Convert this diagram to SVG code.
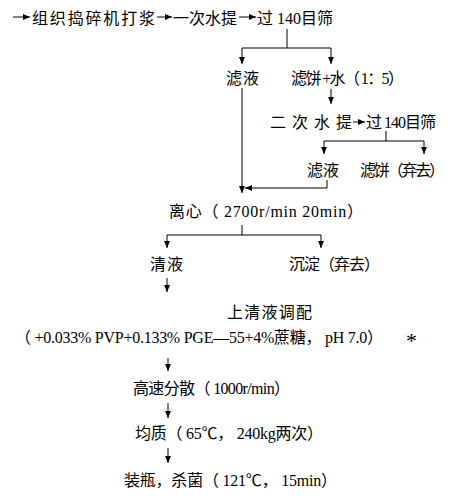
<svg xmlns="http://www.w3.org/2000/svg" width="466" height="503" viewBox="0 0 466 503">
<style>
  text { font-family: "Liberation Serif", "Noto Sans CJK SC", serif; font-size: 16px; fill: #000; }
  .c { fill: none; stroke: #000; stroke-width: 1; }
  .star { font-size: 22px; }
</style>
<defs>
  <marker id="ah" markerUnits="userSpaceOnUse" markerWidth="7" markerHeight="6" refX="7" refY="3" orient="auto">
    <path d="M0,0 L7,3 L0,6 z" fill="#000"/>
  </marker>
</defs>
<rect width="466" height="503" fill="#fff"/>
<g id="connectors">
  <path class="c" d="M13,17 H30" marker-end="url(#ah)"/>
  <path class="c" d="M157,17 H172" marker-end="url(#ah)"/>
  <path class="c" d="M239,17 H256" marker-end="url(#ah)"/>
  <path class="c" d="M287,29 V48 M242,48 H331"/>
  <path class="c" d="M242,48 V64" marker-end="url(#ah)"/>
  <path class="c" d="M331,48 V64" marker-end="url(#ah)"/>
  <path class="c" d="M331,89 V104" marker-end="url(#ah)"/>
  <path class="c" d="M353,122 H365" marker-end="url(#ah)"/>
  <path class="c" d="M386,131 V141 M324,141 H424"/>
  <path class="c" d="M324,141 V154" marker-end="url(#ah)"/>
  <path class="c" d="M424,141 V154" marker-end="url(#ah)"/>
  <path class="c" d="M242,88 V193" marker-end="url(#ah)"/>
  <path class="c" d="M327,180 V188 H245" marker-end="url(#ah)"/>
  <path class="c" d="M242,225 V235 M167,235 H321"/>
  <path class="c" d="M167,235 V248" marker-end="url(#ah)"/>
  <path class="c" d="M321,235 V248" marker-end="url(#ah)"/>
  <path class="c" d="M167,278 V292" marker-end="url(#ah)"/>
  <path class="c" d="M168,358 V371" marker-end="url(#ah)"/>
  <path class="c" d="M168,403 V418" marker-end="url(#ah)"/>
  <path class="c" d="M168,448 V463" marker-end="url(#ah)"/>
</g>
<g id="n1"><text x="32" y="24" textLength="123" lengthAdjust="spacing">组织捣碎机打浆</text></g>
<g id="n2"><text x="173" y="24" textLength="64" lengthAdjust="spacing">一次水提</text></g>
<g id="n3"><text x="257" y="24" textLength="76" lengthAdjust="spacing">过 140目筛</text></g>
<g id="n4"><text x="226" y="84" textLength="33" lengthAdjust="spacing">滤液</text></g>
<g id="n5"><text x="291" y="84" textLength="113" lengthAdjust="spacing">滤饼 +水（ 1：5）</text></g>
<g id="n6"><text x="270" y="128" textLength="82" lengthAdjust="spacing">二次水提</text></g>
<g id="n7"><text x="366" y="128" textLength="70" lengthAdjust="spacing">过 140目筛</text></g>
<g id="n8"><text x="307" y="176" textLength="32" lengthAdjust="spacing">滤液</text></g>
<g id="n9"><text x="360" y="176" textLength="85" lengthAdjust="spacing">滤饼（弃去）</text></g>
<g id="n10"><text x="169" y="217" textLength="194" lengthAdjust="spacing">离心（ 2700r/min  20min）</text></g>
<g id="n11"><text x="150" y="270" textLength="33" lengthAdjust="spacing">清液</text></g>
<g id="n12"><text x="289" y="270" textLength="91" lengthAdjust="spacing">沉淀（弃去）</text></g>
<g id="n13"><text x="227" y="318" textLength="85" lengthAdjust="spacing">上清液调配</text></g>
<g id="n14"><text x="15" y="343" textLength="368" lengthAdjust="spacing">（ +0.033% PVP+0.133% PGE—55+4%蔗糖， pH 7.0）</text><text class="star" x="406" y="348">*</text></g>
<g id="n15"><text x="133" y="394" textLength="157" lengthAdjust="spacing">高速分散（ 1000r/min）</text></g>
<g id="n16"><text x="135" y="439" textLength="188" lengthAdjust="spacing">均质（ 65℃， 240kg两次）</text></g>
<g id="n17"><text x="124" y="486" textLength="213" lengthAdjust="spacing">装瓶，杀菌（ 121℃， 15min）</text></g>
</svg>
